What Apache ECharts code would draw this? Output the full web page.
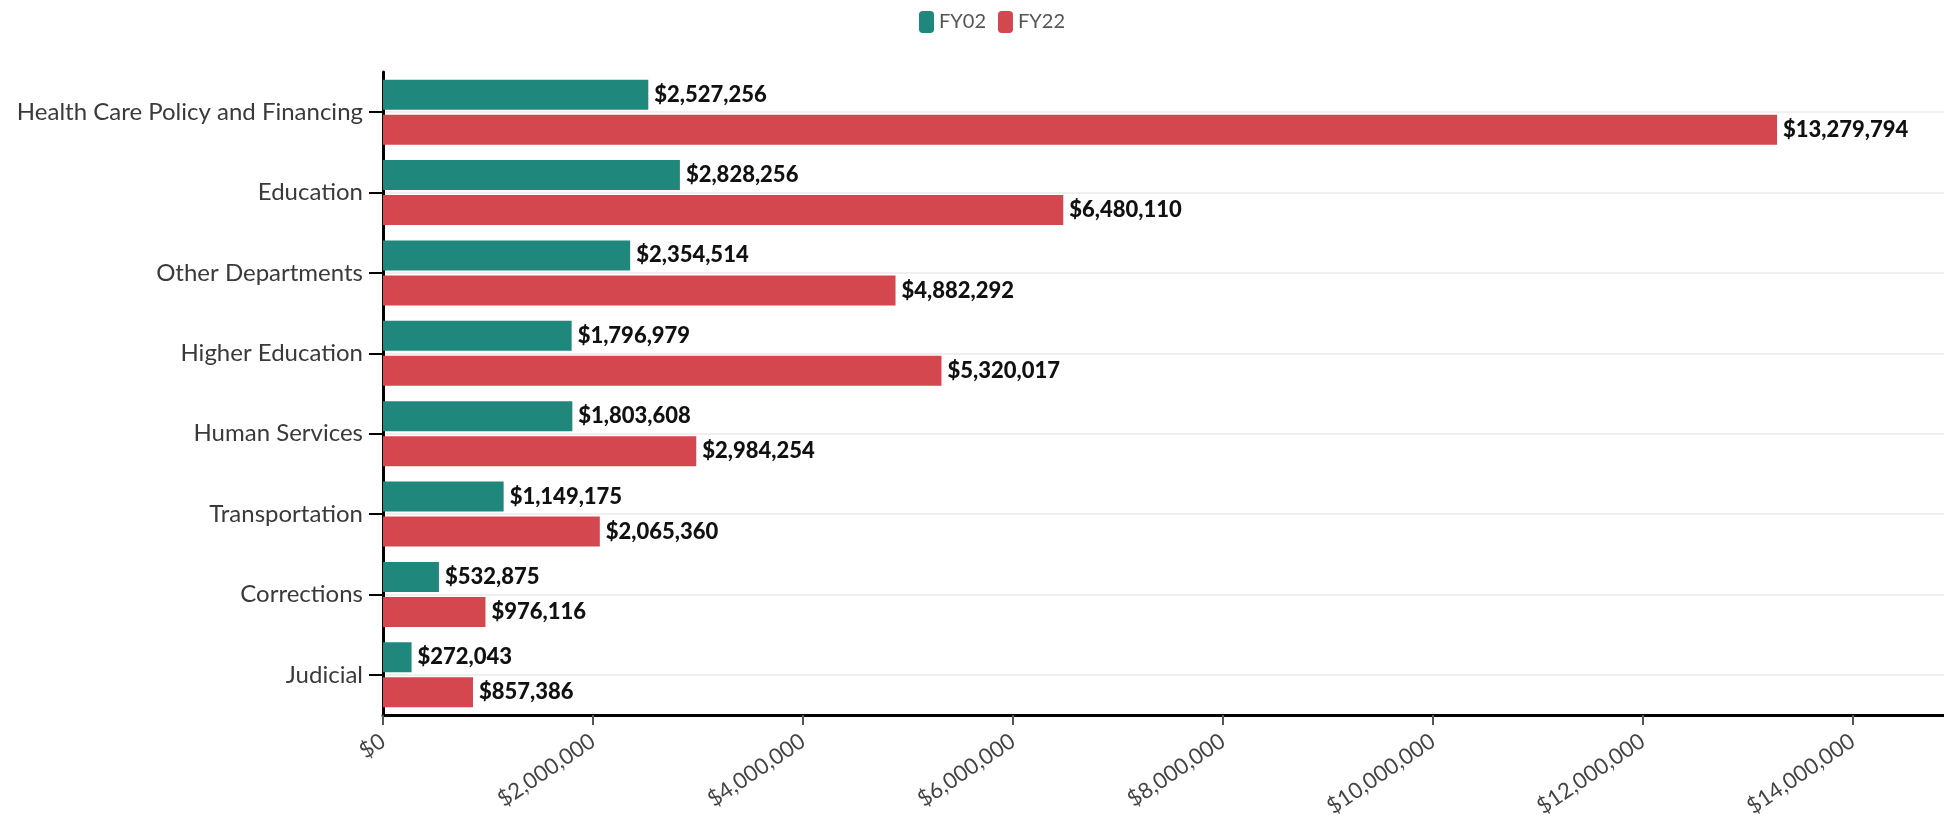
<!DOCTYPE html>
<html>
<head>
<meta charset="utf-8">
<script src="https://cdn.jsdelivr.net/npm/echarts@6/dist/echarts.min.js"></script>
<style>
  html, body { margin: 0; padding: 0; background: #fff; }
  #chart { width: 1944px; height: 825px; }
</style>
</head>
<body>
<div id="chart"></div>
<script>
// Department budget comparison, FY02 vs FY22
const departments = [
  'Health Care Policy and Financing',
  'Education',
  'Other Departments',
  'Higher Education',
  'Human Services',
  'Transportation',
  'Corrections',
  'Judicial'
];
const fy02 = [2527256, 2828256, 2354514, 1796979, 1803608, 1149175, 532875, 272043];
const fy22 = [13279794, 6480110, 4882292, 5320017, 2984254, 2065360, 976116, 857386];
const xTicks = [0, 2000000, 4000000, 6000000, 8000000, 10000000, 12000000, 14000000];

const money = v => '$' + Number(v).toLocaleString('en-US');
const font = 'Lato, "Open Sans", sans-serif';

const chart = echarts.init(document.getElementById('chart'));

const valueLabel = {
  show: true,
  position: 'right',
  distance: 6,
  fontFamily: font,
  fontWeight: 900,
  fontSize: 22,
  color: '#111',
  formatter: p => money(p.value)
};

chart.setOption({
  animation: false,
  legend: {
    top: 6,
    left: 914,
    itemWidth: 15,
    itemHeight: 22,
    itemGap: 12,
    icon: 'roundRect',
    textStyle: { fontFamily: font, fontSize: 20, color: '#555' },
    data: ['FY02', 'FY22']
  },
  grid: { left: 383, right: 0, top: 72, bottom: 110, containLabel: false },
  xAxis: {
    type: 'value',
    min: 0,
    max: 14870000,
    interval: 2000000,
    axisLine: { show: true, lineStyle: { color: '#000', width: 3 } },
    axisTick: { show: true, length: 10, lineStyle: { color: '#555', width: 2 }, customValues: xTicks },
    axisLabel: {
      rotate: 34,
      margin: 24,
      fontFamily: font,
      fontSize: 22,
      color: '#444',
      customValues: xTicks,
      formatter: v => money(v)
    },
    splitLine: { show: false }
  },
  yAxis: {
    type: 'category',
    inverse: true,
    data: departments,
    axisLine: { show: true, lineStyle: { color: '#000', width: 3 } },
    axisTick: { show: true, alignWithLabel: true, length: 14, lineStyle: { color: '#000', width: 2 } },
    axisLabel: { margin: 20, fontFamily: font, fontSize: 24, color: '#3a3a3a' },
    splitLine: { show: true, alignWithLabel: true, lineStyle: { color: '#efefef', width: 2 } }
  },
  series: [
    {
      name: 'FY02',
      type: 'bar',
      data: fy02,
      barWidth: 30,
      barGap: '17%',
      itemStyle: { color: '#1f877c' },
      label: valueLabel
    },
    {
      name: 'FY22',
      type: 'bar',
      data: fy22,
      barWidth: 30,
      barGap: '17%',
      itemStyle: { color: '#d5474f' },
      label: valueLabel
    }
  ]
});
</script>
</body>
</html>
